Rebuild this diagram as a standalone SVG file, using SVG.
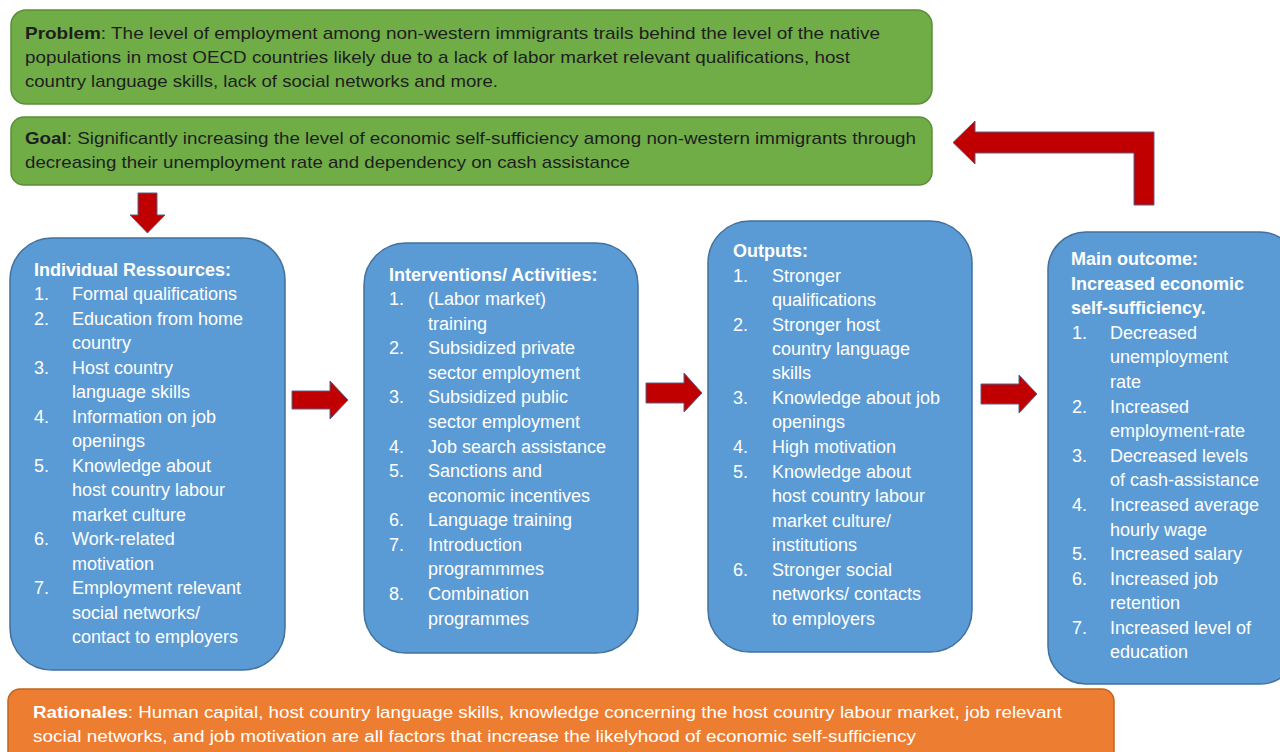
<svg xmlns="http://www.w3.org/2000/svg" width="1280" height="752" viewBox="0 0 1280 752">
<style>
.green{fill:#70AD47;stroke:#5a8f38;stroke-width:1.5}
.blue{fill:#5B9BD5;stroke:#41719C;stroke-width:1.5}
.orange{fill:#ED7D31;stroke:#c0651f;stroke-width:1.5}
.dk{font-family:"Liberation Sans",Arial,sans-serif;font-size:17px;fill:#1e1e1e}
.wt{font-family:"Liberation Sans",Arial,sans-serif;font-size:18px;fill:#ffffff}
.ow{font-family:"Liberation Sans",Arial,sans-serif;font-size:16px;fill:#ffffff}
.b{font-weight:bold}
.arrow{fill:#C00000;stroke:#5a5f88;stroke-width:1}
</style>
<rect width="1280" height="752" fill="#ffffff"/>

<g id="problem">
<rect class="green" x="11" y="10" width="921" height="94" rx="15"/>
<text class="dk" x="25" y="39" textLength="855" lengthAdjust="spacingAndGlyphs"><tspan class="b">Problem</tspan>: The level of employment among non-western immigrants trails behind the level of the native</text>
<text class="dk" x="25" y="63" textLength="825" lengthAdjust="spacingAndGlyphs">populations in most OECD countries likely due to a lack of labor market relevant qualifications, host</text>
<text class="dk" x="25" y="87" textLength="473" lengthAdjust="spacingAndGlyphs">country language skills, lack of social networks and more.</text>
</g>

<g id="goal">
<rect class="green" x="11" y="117" width="921" height="68" rx="13"/>
<text class="dk" x="25" y="144" textLength="891" lengthAdjust="spacingAndGlyphs"><tspan class="b">Goal</tspan>: Significantly increasing the level of economic self-sufficiency among non-western immigrants through</text>
<text class="dk" x="25" y="168" textLength="605" lengthAdjust="spacingAndGlyphs">decreasing their unemployment rate and dependency on cash assistance</text>
</g>

<g id="resources">
<rect class="blue" x="10" y="238" width="275" height="432" rx="42"/>
<text class="wt b" x="34" y="276">Individual Ressources:</text>
<g class="wt">
<text x="34" y="300">1.</text><text x="72" y="300">Formal qualifications</text>
<text x="34" y="325">2.</text><text x="72" y="325">Education from home</text>
<text x="72" y="349">country</text>
<text x="34" y="374">3.</text><text x="72" y="374">Host country</text>
<text x="72" y="398">language skills</text>
<text x="34" y="423">4.</text><text x="72" y="423">Information on job</text>
<text x="72" y="447">openings</text>
<text x="34" y="472">5.</text><text x="72" y="472">Knowledge about</text>
<text x="72" y="496">host country labour</text>
<text x="72" y="521">market culture</text>
<text x="34" y="545">6.</text><text x="72" y="545">Work-related</text>
<text x="72" y="570">motivation</text>
<text x="34" y="594">7.</text><text x="72" y="594">Employment relevant</text>
<text x="72" y="619">social networks/</text>
<text x="72" y="643">contact to employers</text>
</g>
</g>

<g id="interventions">
<rect class="blue" x="364" y="243" width="274" height="410" rx="42"/>
<text class="wt b" x="389" y="281">Interventions/ Activities:</text>
<g class="wt">
<text x="389" y="305">1.</text><text x="428" y="305">(Labor market)</text>
<text x="428" y="330">training</text>
<text x="389" y="354">2.</text><text x="428" y="354">Subsidized private</text>
<text x="428" y="379">sector employment</text>
<text x="389" y="403">3.</text><text x="428" y="403">Subsidized public</text>
<text x="428" y="428">sector employment</text>
<text x="389" y="453">4.</text><text x="428" y="453">Job search assistance</text>
<text x="389" y="477">5.</text><text x="428" y="477">Sanctions and</text>
<text x="428" y="502">economic incentives</text>
<text x="389" y="526">6.</text><text x="428" y="526">Language training</text>
<text x="389" y="551">7.</text><text x="428" y="551">Introduction</text>
<text x="428" y="575">programmmes</text>
<text x="389" y="600">8.</text><text x="428" y="600">Combination</text>
<text x="428" y="625">programmes</text>
</g>
</g>

<g id="outputs">
<rect class="blue" x="708" y="221" width="264" height="431" rx="42"/>
<text class="wt b" x="733" y="257">Outputs:</text>
<g class="wt">
<text x="733" y="282">1.</text><text x="772" y="282">Stronger</text>
<text x="772" y="306">qualifications</text>
<text x="733" y="331">2.</text><text x="772" y="331">Stronger host</text>
<text x="772" y="355">country language</text>
<text x="772" y="379">skills</text>
<text x="733" y="404">3.</text><text x="772" y="404">Knowledge about job</text>
<text x="772" y="428">openings</text>
<text x="733" y="453">4.</text><text x="772" y="453">High motivation</text>
<text x="733" y="478">5.</text><text x="772" y="478">Knowledge about</text>
<text x="772" y="502">host country labour</text>
<text x="772" y="527">market culture/</text>
<text x="772" y="551">institutions</text>
<text x="733" y="576">6.</text><text x="772" y="576">Stronger social</text>
<text x="772" y="600">networks/ contacts</text>
<text x="772" y="625">to employers</text>
</g>
</g>

<g id="outcome">
<rect class="blue" x="1048" y="232" width="250" height="452" rx="38"/>
<text class="wt b" x="1071" y="265">Main outcome:</text>
<text class="wt b" x="1071" y="290">Increased economic</text>
<text class="wt b" x="1071" y="314">self-sufficiency.</text>
<g class="wt">
<text x="1072" y="339">1.</text><text x="1110" y="339">Decreased</text>
<text x="1110" y="363">unemployment</text>
<text x="1110" y="388">rate</text>
<text x="1072" y="413">2.</text><text x="1110" y="413">Increased</text>
<text x="1110" y="437">employment-rate</text>
<text x="1072" y="462">3.</text><text x="1110" y="462">Decreased levels</text>
<text x="1110" y="486">of cash-assistance</text>
<text x="1072" y="511">4.</text><text x="1110" y="511">Increased average</text>
<text x="1110" y="536">hourly wage</text>
<text x="1072" y="560">5.</text><text x="1110" y="560">Increased salary</text>
<text x="1072" y="585">6.</text><text x="1110" y="585">Increased job</text>
<text x="1110" y="609">retention</text>
<text x="1072" y="634">7.</text><text x="1110" y="634">Increased level of</text>
<text x="1110" y="658">education</text>
</g>
</g>

<g id="rationales">
<rect class="orange" x="8" y="689" width="1106" height="80" rx="12"/>
<text class="ow" x="33" y="718" textLength="1029" lengthAdjust="spacingAndGlyphs"><tspan class="b">Rationales</tspan>: Human capital, host country language skills, knowledge concerning the host country labour market, job relevant</text>
<text class="ow" x="33" y="742" textLength="883" lengthAdjust="spacingAndGlyphs">social networks, and job motivation are all factors that increase the likelyhood of economic self-sufficiency</text>
</g>

<g id="connectors">
<polygon class="arrow" points="138,193 157,193 157,215 165,215 147.5,233 130,215 138,215"/>
<polygon class="arrow" points="292,391 330,391 330,381 348,400 330,419 330,409 292,409"/>
<polygon class="arrow" points="646,383 684,383 684,373 702,393 684,412 684,403 646,403"/>
<polygon class="arrow" points="981,384 1019,384 1019,375 1037,394 1019,413 1019,404 981,404"/>
<polygon class="arrow" points="1154,205 1154,132 975,132 975,121 953,142.5 975,164 975,153 1134,153 1134,205"/>
</g>
</svg>
